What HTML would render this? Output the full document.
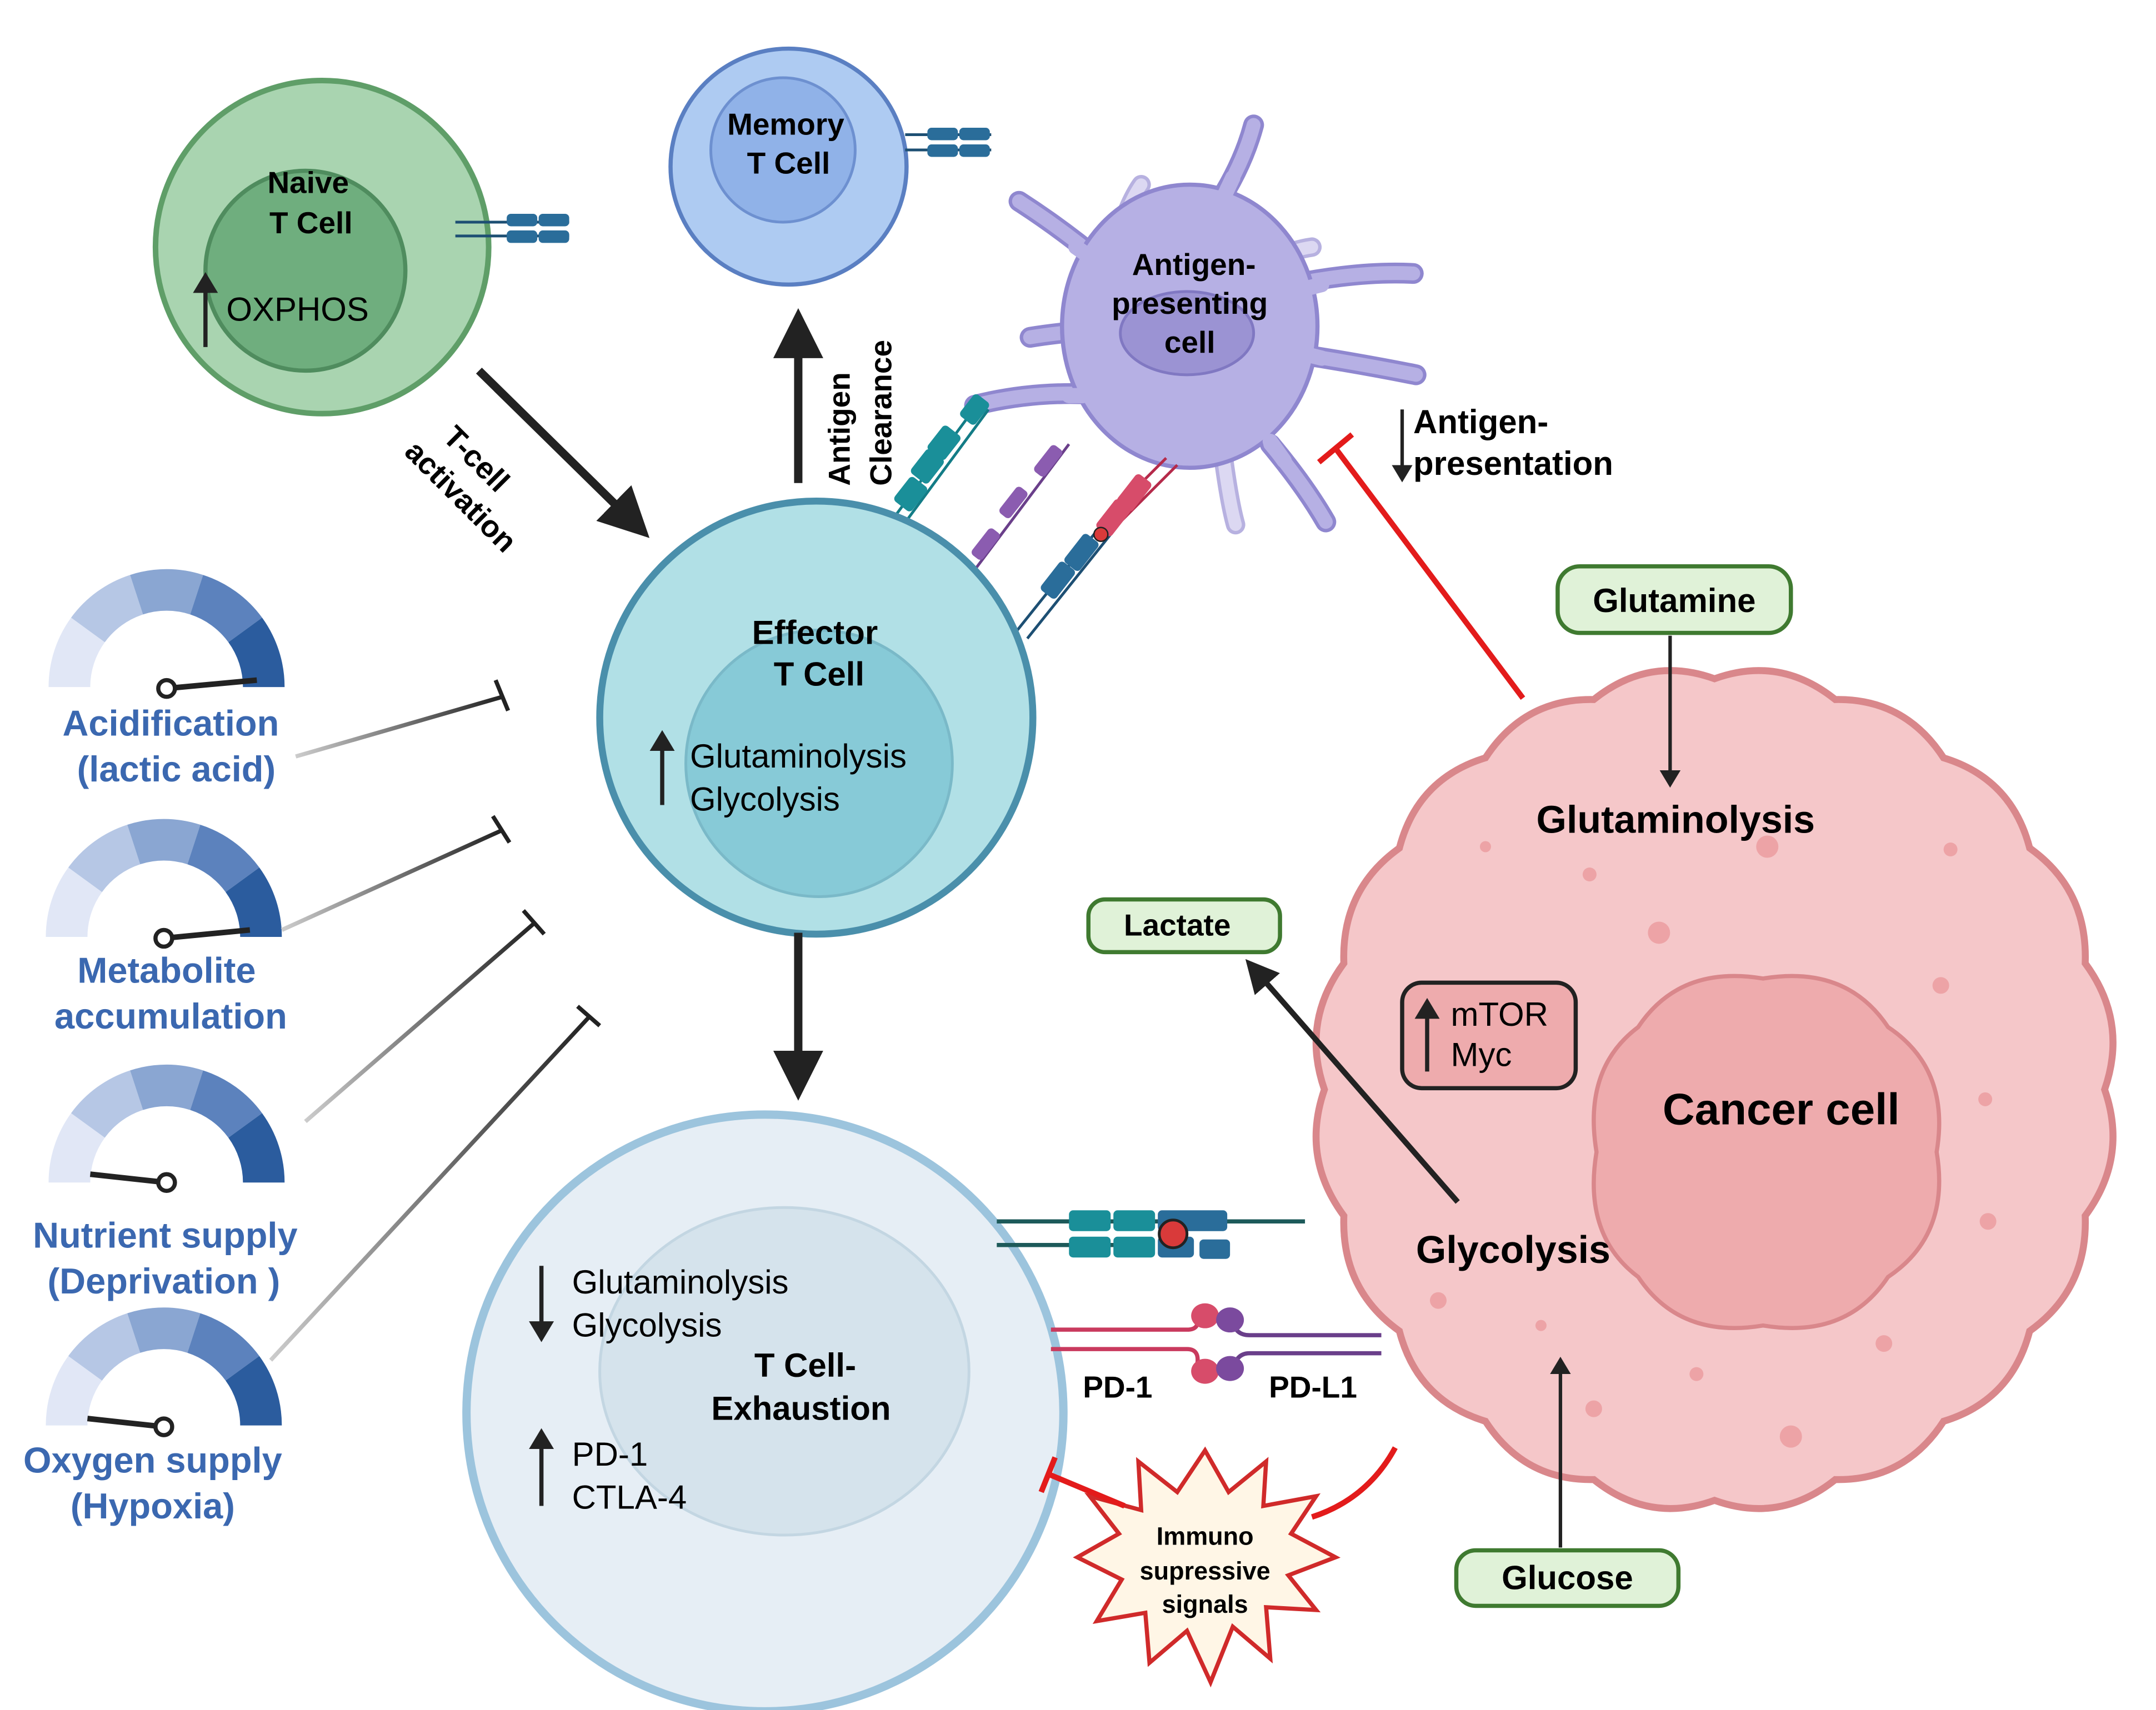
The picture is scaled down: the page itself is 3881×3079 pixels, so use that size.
<!DOCTYPE html>
<html><head><meta charset="utf-8"><style>html,body{margin:0;padding:0;background:#fff}svg{display:block}text{font-family:"Liberation Sans",sans-serif}</style></head><body>
<svg width="3881" height="3079" viewBox="0 0 1553 1232" xmlns="http://www.w3.org/2000/svg">
<defs>
<marker id="ah" markerWidth="6" markerHeight="6" refX="3" refY="3" orient="auto" markerUnits="strokeWidth"><path d="M0,0 L6,3 L0,6 z" fill="#222"/></marker>
<marker id="ahs" markerWidth="5" markerHeight="6" refX="2" refY="3" orient="auto" markerUnits="strokeWidth"><path d="M0,0 L5,3 L0,6 z" fill="#222"/></marker>
<linearGradient id="fade" x1="0" x2="1"><stop offset="0" stop-color="#ccc"/><stop offset="1" stop-color="#222"/></linearGradient>
</defs>

<!-- Naive T cell -->
<circle cx="232" cy="178" r="120" fill="#a9d4b0" stroke="#5f9e68" stroke-width="4"/>
<circle cx="220" cy="195" r="72" fill="#6fae7e" stroke="#4f8c5e" stroke-width="3"/>
<text x="222" y="139" font-size="22" font-weight="bold" text-anchor="middle">Naive</text>
<text x="224" y="168" font-size="22" font-weight="bold" text-anchor="middle">T Cell</text>
<text x="163" y="231" font-size="24">OXPHOS</text>
<line x1="148" y1="250" x2="148" y2="205" stroke="#222" stroke-width="3" marker-end="url(#ahs)"/>
<g stroke="#1d4f73" stroke-width="2"><line x1="328" y1="160" x2="410" y2="160"/><line x1="328" y1="170" x2="410" y2="170"/></g>
<rect x="365" y="154" width="22" height="9" rx="3" fill="#2a6d9a"/><rect x="388" y="154" width="22" height="9" rx="3" fill="#2a6d9a"/>
<rect x="365" y="166" width="22" height="9" rx="3" fill="#2a6d9a"/><rect x="388" y="166" width="22" height="9" rx="3" fill="#2a6d9a"/>

<!-- Memory -->
<circle cx="568" cy="120" r="85" fill="#aecbf2" stroke="#5a7fc2" stroke-width="3"/>
<circle cx="564" cy="108" r="52" fill="#90b2e8" stroke="#6d90d0" stroke-width="2"/>
<text x="566" y="97" font-size="22" font-weight="bold" text-anchor="middle">Memory</text>
<text x="568" y="125" font-size="22" font-weight="bold" text-anchor="middle">T Cell</text>
<g stroke="#1d4f73" stroke-width="2"><line x1="652" y1="97" x2="714" y2="97"/><line x1="652" y1="108" x2="714" y2="108"/></g>
<rect x="668" y="92" width="22" height="9" rx="3" fill="#2a6d9a"/><rect x="691" y="92" width="22" height="9" rx="3" fill="#2a6d9a"/>
<rect x="668" y="104" width="22" height="9" rx="3" fill="#2a6d9a"/><rect x="691" y="104" width="22" height="9" rx="3" fill="#2a6d9a"/>

<!-- APC -->
<g fill="none" stroke-linecap="round">
<g stroke="#b7b1e0" stroke-width="14"><path d="M800,190 Q810,150 822,133"/><path d="M910,190 Q930,180 945,178"/><path d="M880,320 Q885,360 890,378"/></g>
<g stroke="#dcd8f2" stroke-width="9"><path d="M800,190 Q810,150 822,133"/><path d="M910,190 Q930,180 945,178"/><path d="M880,320 Q885,360 890,378"/></g>
<g stroke="#8f87cf" stroke-width="15">
<path d="M875,150 Q895,120 903,90"/><path d="M795,190 Q765,165 734,145"/><path d="M785,238 Q760,240 742,243"/><path d="M800,285 Q750,280 702,292"/><path d="M930,205 Q980,195 1018,197"/><path d="M935,255 Q980,262 1020,270"/><path d="M915,320 Q940,350 955,376"/>
</g>
<g stroke="#b6b0e4" stroke-width="10">
<path d="M875,150 Q895,120 903,90"/><path d="M795,190 Q765,165 734,145"/><path d="M785,238 Q760,240 742,243"/><path d="M800,285 Q750,280 702,292"/><path d="M930,205 Q980,195 1018,197"/><path d="M935,255 Q980,262 1020,270"/><path d="M915,320 Q940,350 955,376"/>
</g>
</g>
<ellipse cx="857" cy="235" rx="92" ry="102" fill="#b6b0e4" stroke="#8f87cf" stroke-width="3"/>
<g stroke="#b6b0e4" stroke-width="11" stroke-linecap="round" fill="none"><path d="M880,145 L888,128"/><path d="M785,185 L775,178"/><path d="M780,285 L770,285"/><path d="M940,208 L952,205"/><path d="M940,255 L952,258"/><path d="M915,318 L925,332"/></g>
<ellipse cx="855" cy="240" rx="48" ry="30" fill="#9b93d3" stroke="#8078c2" stroke-width="2"/>
<text x="860" y="198" font-size="22" font-weight="bold" text-anchor="middle">Antigen-</text>
<text x="857" y="226" font-size="22" font-weight="bold" text-anchor="middle">presenting</text>
<text x="857" y="254" font-size="22" font-weight="bold" text-anchor="middle">cell</text>

<!-- receptors effector-APC -->
<g stroke="#137c86" stroke-width="2"><line x1="635" y1="385" x2="705" y2="290"/><line x1="642" y1="390" x2="712" y2="295"/></g>
<g fill="#1a8f99"><rect x="648" y="345" width="16" height="22" rx="3" transform="rotate(38 656 356)"/><rect x="660" y="325" width="16" height="22" rx="3" transform="rotate(38 668 336)"/><rect x="672" y="308" width="16" height="22" rx="3" transform="rotate(38 680 319)"/><rect x="695" y="285" width="14" height="20" rx="3" transform="rotate(38 702 295)"/></g>
<g stroke="#6a3f8a" stroke-width="2"><line x1="686" y1="432" x2="770" y2="320"/></g>
<g fill="#8b5cb0"><rect x="705" y="380" width="10" height="24" rx="3" transform="rotate(38 710 392)"/><rect x="725" y="350" width="10" height="24" rx="3" transform="rotate(38 730 362)"/><rect x="750" y="320" width="10" height="24" rx="3" transform="rotate(38 755 332)"/></g>
<g stroke="#1d4f73" stroke-width="2"><line x1="732" y1="455" x2="800" y2="370"/><line x1="740" y1="460" x2="808" y2="375"/></g>
<g stroke="#b52a4a" stroke-width="2"><line x1="800" y1="370" x2="840" y2="330"/><line x1="808" y1="375" x2="848" y2="335"/></g>
<g fill="#2a6d9a"><rect x="755" y="405" width="14" height="26" rx="3" transform="rotate(38 762 418)"/><rect x="772" y="385" width="14" height="26" rx="3" transform="rotate(38 779 398)"/></g>
<g fill="#d74c6a"><rect x="795" y="360" width="14" height="26" rx="3" transform="rotate(38 802 373)"/><rect x="810" y="342" width="14" height="26" rx="3" transform="rotate(38 817 355)"/></g>
<circle cx="793" cy="385" r="5" fill="#d93a3a" stroke="#222"/>

<!-- Effector -->
<circle cx="588" cy="517" r="156" fill="#b1e0e6" stroke="#4a8fab" stroke-width="5"/>
<circle cx="590" cy="550" r="96" fill="#87cad7" stroke="#7ab9c8" stroke-width="2"/>
<text x="587" y="464" font-size="24" font-weight="bold" text-anchor="middle">Effector</text>
<text x="590" y="494" font-size="24" font-weight="bold" text-anchor="middle">T Cell</text>
<text x="497" y="553" font-size="24">Glutaminolysis</text>
<text x="497" y="584" font-size="24">Glycolysis</text>
<line x1="477" y1="580" x2="477" y2="535" stroke="#222" stroke-width="3" marker-end="url(#ahs)"/>

<!-- main arrows -->
<line x1="345" y1="267" x2="455" y2="375" stroke="#222" stroke-width="6" marker-end="url(#ah)"/>
<text transform="translate(318,316) rotate(45)" font-size="22" font-weight="bold"><tspan x="0" y="0">T-cell</tspan><tspan x="-12" y="27">activation</tspan></text>
<line x1="575" y1="348" x2="575" y2="240" stroke="#222" stroke-width="6" marker-end="url(#ah)"/>
<text transform="translate(612,350) rotate(-90)" font-size="22" font-weight="bold">Antigen</text>
<text transform="translate(642,350) rotate(-90)" font-size="22" font-weight="bold">Clearance</text>
<line x1="575" y1="672" x2="575" y2="775" stroke="#222" stroke-width="6" marker-end="url(#ah)"/>

<!-- Antigen presentation -->
<line x1="1010" y1="295" x2="1010" y2="340" stroke="#222" stroke-width="2.5" marker-end="url(#ahs)"/>
<text x="1018" y="312" font-size="24" font-weight="bold">Antigen-</text>
<text x="1018" y="342" font-size="24" font-weight="bold">presentation</text>
<line x1="1097" y1="503" x2="962" y2="323" stroke="#e31b1b" stroke-width="4"/>
<line x1="950" y1="333" x2="974" y2="313" stroke="#e31b1b" stroke-width="4"/>

<!-- Exhaustion -->
<circle cx="551" cy="1018" r="215" fill="#e6eef5" stroke="#9cc4dd" stroke-width="6"/>
<ellipse cx="565" cy="988" rx="133" ry="118" fill="#d5e3ec" stroke="#c3d6e2" stroke-width="2"/>
<text x="412" y="932" font-size="24">Glutaminolysis</text>
<text x="412" y="963" font-size="24">Glycolysis</text>
<line x1="390" y1="912" x2="390" y2="958" stroke="#222" stroke-width="3" marker-end="url(#ahs)"/>
<text x="580" y="992" font-size="24" font-weight="bold" text-anchor="middle">T Cell-</text>
<text x="577" y="1023" font-size="24" font-weight="bold" text-anchor="middle">Exhaustion</text>
<text x="412" y="1056" font-size="24">PD-1</text>
<text x="412" y="1087" font-size="24">CTLA-4</text>
<line x1="390" y1="1085" x2="390" y2="1038" stroke="#222" stroke-width="3" marker-end="url(#ahs)"/>

<!-- Cancer cell -->
<path d="M1516,785 Q1533,834 1502,876 Q1504,929 1462,959 Q1449,1009 1400,1024 Q1372,1067 1322,1066 Q1282,1098 1235,1081 Q1188,1098 1148,1066 Q1098,1067 1070,1024 Q1021,1009 1008,959 Q966,929 968,876 Q937,834 954,785 Q937,736 968,694 Q966,641 1008,611 Q1021,561 1070,546 Q1098,503 1148,504 Q1188,472 1235,489 Q1282,472 1322,504 Q1372,503 1400,546 Q1449,561 1462,611 Q1504,641 1502,694 Q1533,736 1516,785 Z" fill="#f5c7c9" stroke="#d9878b" stroke-width="5"/>
<path d="M1395,830 Q1405,890 1360,920 Q1330,965 1270,955 Q1210,965 1180,920 Q1140,890 1150,830 Q1140,770 1180,740 Q1210,695 1270,705 Q1330,695 1360,740 Q1405,770 1395,830 Z" fill="#eeabad" stroke="#d9878b" stroke-width="3"/>
<g fill="#eda3a6"><circle cx="1273" cy="610" r="8"/><circle cx="1195" cy="672" r="8"/><circle cx="1398" cy="710" r="6"/><circle cx="1145" cy="630" r="5"/><circle cx="1432" cy="880" r="6"/><circle cx="1357" cy="968" r="6"/><circle cx="1290" cy="1035" r="8"/><circle cx="1222" cy="990" r="5"/><circle cx="1148" cy="1015" r="6"/><circle cx="1036" cy="937" r="6"/><circle cx="1430" cy="792" r="5"/><circle cx="1070" cy="610" r="4"/><circle cx="1405" cy="612" r="5"/><circle cx="1110" cy="955" r="4"/></g>
<text x="1207" y="600" font-size="28" font-weight="bold" text-anchor="middle">Glutaminolysis</text>
<text x="1283" y="810" font-size="32" font-weight="bold" text-anchor="middle">Cancer cell</text>
<text x="1090" y="910" font-size="28" font-weight="bold" text-anchor="middle">Glycolysis</text>
<rect x="1010" y="708" width="125" height="76" rx="14" fill="#eeabad" stroke="#222" stroke-width="3"/>
<text x="1045" y="739" font-size="24">mTOR</text>
<text x="1045" y="768" font-size="24">Myc</text>
<line x1="1028" y1="772" x2="1028" y2="728" stroke="#222" stroke-width="3" marker-end="url(#ahs)"/>

<!-- metabolites -->
<rect x="1122" y="408" width="168" height="48" rx="16" fill="#e0f2d8" stroke="#3f7a30" stroke-width="3"/>
<text x="1206" y="441" font-size="24" font-weight="bold" text-anchor="middle">Glutamine</text>
<line x1="1203" y1="458" x2="1203" y2="560" stroke="#222" stroke-width="2.5" marker-end="url(#ahs)"/>
<rect x="784" y="648" width="138" height="38" rx="12" fill="#e0f2d8" stroke="#3f7a30" stroke-width="3"/>
<text x="848" y="674" font-size="22" font-weight="bold" text-anchor="middle">Lactate</text>
<line x1="1050" y1="866" x2="905" y2="700" stroke="#222" stroke-width="4" marker-end="url(#ah)"/>
<rect x="1049" y="1117" width="160" height="40" rx="14" fill="#e0f2d8" stroke="#3f7a30" stroke-width="3"/>
<text x="1129" y="1145" font-size="24" font-weight="bold" text-anchor="middle">Glucose</text>
<line x1="1124" y1="1115" x2="1124" y2="985" stroke="#222" stroke-width="2.5" marker-end="url(#ahs)"/>

<!-- MHC-TCR bottom -->
<g stroke="#1d5a5a" stroke-width="3"><line x1="718" y1="880" x2="940" y2="880"/><line x1="718" y1="897" x2="830" y2="897"/></g>
<g fill="#1a8f99"><rect x="770" y="872" width="30" height="15" rx="3"/><rect x="802" y="872" width="30" height="15" rx="3"/><rect x="770" y="891" width="30" height="15" rx="3"/><rect x="802" y="891" width="30" height="15" rx="3"/></g>
<g fill="#2a6d9a"><rect x="834" y="872" width="50" height="15" rx="3"/><rect x="834" y="891" width="26" height="15" rx="3"/><rect x="864" y="893" width="22" height="14" rx="3"/></g>
<circle cx="845" cy="889" r="10" fill="#d93a3a" stroke="#222" stroke-width="2"/>
<!-- PD-1/PD-L1 -->
<g fill="none" stroke-width="3">
<path d="M757,958 H855 Q865,958 862,948" stroke="#c93a5e"/><path d="M757,972 H855 Q865,972 862,985" stroke="#c93a5e"/>
<path d="M995,962 H900 Q890,962 888,952" stroke="#6a3f8a"/><path d="M995,975 H900 Q890,975 888,988" stroke="#6a3f8a"/>
</g>
<ellipse cx="868" cy="948" rx="10" ry="9" fill="#d74c6a"/><ellipse cx="868" cy="988" rx="10" ry="9" fill="#d74c6a"/>
<ellipse cx="886" cy="951" rx="10" ry="9" fill="#7b4a9e"/><ellipse cx="886" cy="986" rx="10" ry="9" fill="#7b4a9e"/>
<text x="780" y="1007" font-size="22" font-weight="bold">PD-1</text>
<text x="914" y="1007" font-size="22" font-weight="bold">PD-L1</text>

<!-- immunosuppressive -->
<polygon points="868,1045 885,1075 912,1053 910,1085 948,1078 930,1105 962,1122 928,1135 948,1160 912,1158 915,1195 888,1172 872,1212 855,1175 828,1198 825,1162 790,1168 808,1138 776,1122 806,1105 785,1078 822,1088 820,1053 848,1075" fill="#fff6e6" stroke="#d02a2a" stroke-width="3"/>
<text x="868" y="1113" font-size="18" font-weight="bold" text-anchor="middle">Immuno</text>
<text x="868" y="1138" font-size="18" font-weight="bold" text-anchor="middle">supressive</text>
<text x="868" y="1162" font-size="18" font-weight="bold" text-anchor="middle">signals</text>
<path d="M1005,1043 Q985,1080 945,1093" fill="none" stroke="#e31b1b" stroke-width="4"/>
<line x1="810" y1="1085" x2="755" y2="1062" stroke="#e31b1b" stroke-width="4"/>
<line x1="750" y1="1075" x2="760" y2="1050" stroke="#e31b1b" stroke-width="4"/>

<!-- gauges -->
<g id="g1" transform="translate(120,495)">
<path d="M-85,0 A85,85 0 0 1 -68.8,-50 L-44.5,-32.3 A55,55 0 0 0 -55,0 Z" fill="#e1e7f6"/>
<path d="M-68.8,-50 A85,85 0 0 1 -26.3,-80.8 L-17,-52.3 A55,55 0 0 0 -44.5,-32.3 Z" fill="#b6c7e5"/>
<path d="M-26.3,-80.8 A85,85 0 0 1 26.3,-80.8 L17,-52.3 A55,55 0 0 0 -17,-52.3 Z" fill="#8aa6d2"/>
<path d="M26.3,-80.8 A85,85 0 0 1 68.8,-50 L44.5,-32.3 A55,55 0 0 0 17,-52.3 Z" fill="#5c82bd"/>
<path d="M68.8,-50 A85,85 0 0 1 85,0 L55,0 A55,55 0 0 0 44.5,-32.3 Z" fill="#2b5c9e"/>
</g>
<line x1="120" y1="496" x2="185" y2="490" stroke="#222" stroke-width="4"/><circle cx="120" cy="496" r="6" fill="#fff" stroke="#222" stroke-width="3"/>
<use href="#g1" transform="translate(-2,180)"/>
<line x1="118" y1="676" x2="180" y2="670" stroke="#222" stroke-width="4"/><circle cx="118" cy="676" r="6" fill="#fff" stroke="#222" stroke-width="3"/>
<use href="#g1" transform="translate(0,357)"/>
<line x1="120" y1="852" x2="65" y2="846" stroke="#222" stroke-width="4"/><circle cx="120" cy="852" r="6" fill="#fff" stroke="#222" stroke-width="3"/>
<use href="#g1" transform="translate(-2,532)"/>
<line x1="118" y1="1028" x2="63" y2="1022" stroke="#222" stroke-width="4"/><circle cx="118" cy="1028" r="6" fill="#fff" stroke="#222" stroke-width="3"/>

<g font-size="26" font-weight="bold" fill="#3b68b0" text-anchor="middle">
<text x="123" y="530">Acidification</text><text x="127" y="563">(lactic acid)</text>
<text x="120" y="708">Metabolite</text><text x="123" y="741">accumulation</text>
<text x="119" y="899">Nutrient supply</text><text x="118" y="932">(Deprivation )</text>
<text x="110" y="1061">Oxygen supply</text><text x="110" y="1094">(Hypoxia)</text>
</g>

<!-- inhibit lines -->
<g stroke="url(#fade)" stroke-width="3">
<line x1="213" y1="545" x2="362" y2="502"/>
<line x1="203" y1="670" x2="362" y2="598"/>
<line x1="220" y1="808" x2="385" y2="665"/>
<line x1="195" y1="980" x2="425" y2="732"/>
</g>
<g stroke="#222" stroke-width="3">
<line x1="357" y1="490" x2="366" y2="512"/>
<line x1="355" y1="588" x2="367" y2="607"/>
<line x1="377" y1="656" x2="392" y2="673"/>
<line x1="416" y1="725" x2="432" y2="739"/>
</g>
</svg>
</body></html>
